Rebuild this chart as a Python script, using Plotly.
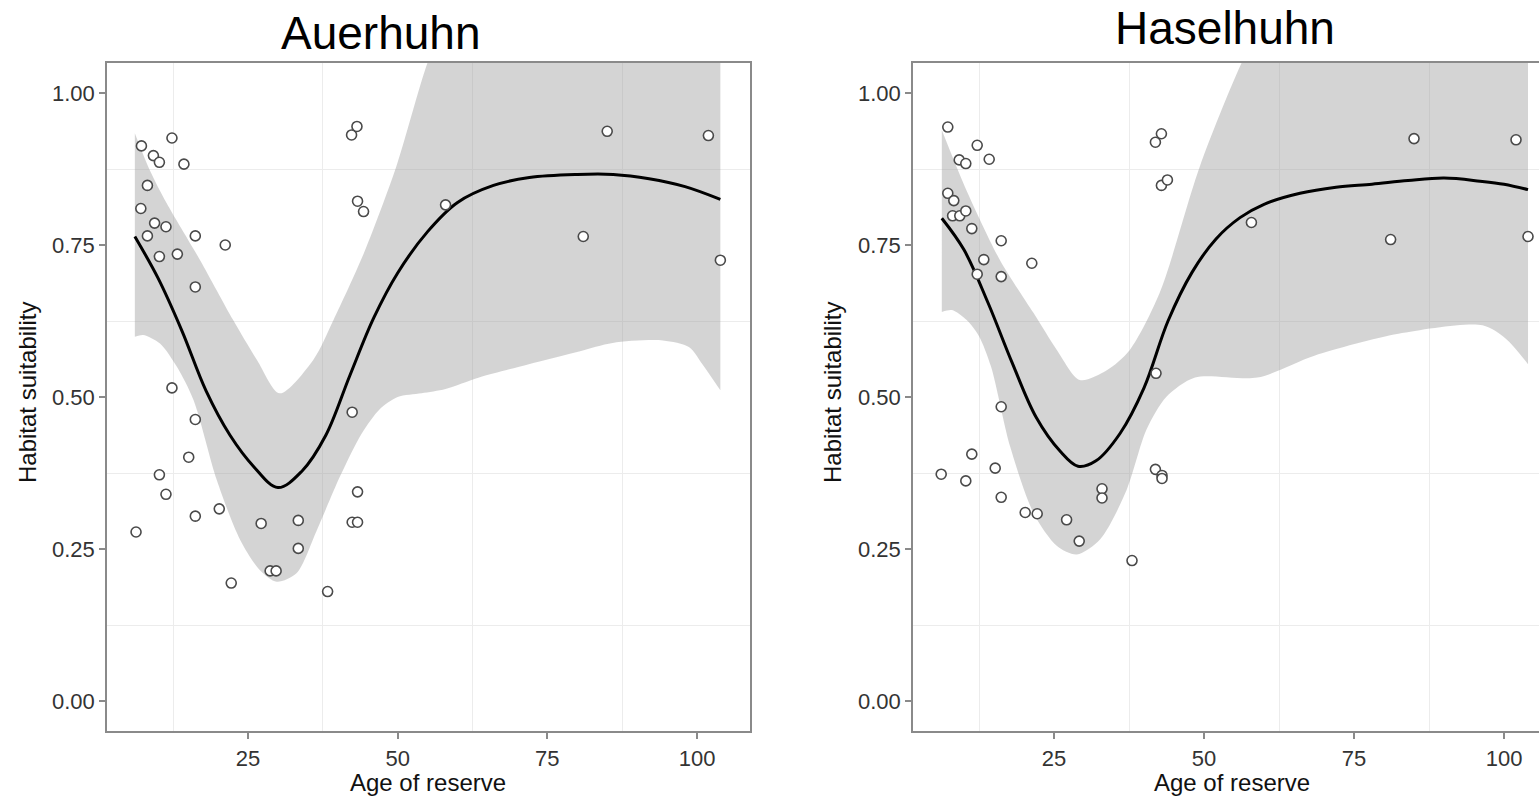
import plotly.graph_objects as go

# ---------------- data ----------------
panel_titles = ["Auerhuhn", "Haselhuhn"]
x_title = "Age of reserve"
y_title = "Habitat suitability"
x_tickvals = [25, 50, 75, 100]
x_ticktext = ["25", "50", "75", "100"]
y_tickvals = [0.0, 0.25, 0.5, 0.75, 1.0]
y_ticktext = ["0.00", "0.25", "0.50", "0.75", "1.00"]
x_minor_grid = [12.5, 37.5, 62.5, 87.5]
y_minor_grid = [0.125, 0.375, 0.625, 0.875]

# Auerhuhn observations
auer_age = [6.3, 7.1, 7.2, 8.2, 8.2, 9.2, 9.4, 10.2, 10.2, 10.2, 11.3, 11.3, 12.3, 12.3,
            13.2, 14.3, 15.1, 16.2, 16.2, 16.2, 16.2, 20.2, 21.2, 22.2, 27.2, 28.7, 29.7,
            33.4, 33.4, 38.3, 42.3, 43.2, 43.3, 44.3, 42.4, 43.3, 42.4, 43.3, 58.0, 81.0,
            85.0, 101.9, 103.9]
auer_suit = [0.278, 0.810, 0.913, 0.848, 0.765, 0.897, 0.786, 0.886, 0.731, 0.372, 0.780,
             0.340, 0.926, 0.515, 0.735, 0.883, 0.401, 0.765, 0.681, 0.463, 0.304, 0.316,
             0.750, 0.194, 0.292, 0.214, 0.214, 0.297, 0.251, 0.180, 0.931, 0.945, 0.822,
             0.805, 0.475, 0.344, 0.294, 0.294, 0.816, 0.764, 0.937, 0.930, 0.725]

# Auerhuhn smoother and confidence band
auer_fit_age = [6.1, 10, 14, 18, 22, 26, 30, 34, 38, 42, 46, 50, 55, 60, 66, 72, 80, 86,
                92, 98, 103.9]
auer_fit = [0.764, 0.695, 0.608, 0.510, 0.437, 0.385, 0.351, 0.378, 0.437, 0.535, 0.630,
            0.704, 0.772, 0.820, 0.848, 0.861, 0.866, 0.866, 0.859, 0.846, 0.825]
auer_upper_age = [6.1, 8.6, 11.4, 17.0, 22.5, 26.5, 30.3, 35.9, 39.3, 44.5, 49.8, 55.0,
                  60.0, 70.0, 85.0, 95.0, 103.9]
auer_upper = [0.934, 0.873, 0.819, 0.725, 0.627, 0.561, 0.506, 0.561, 0.627, 0.740, 0.880,
              1.050, 1.170, 1.320, 1.400, 1.420, 1.450]
auer_lower_age = [6.1, 7.5, 10.3, 13.1, 15.9, 19.8, 23.7, 27.0, 29.8, 33.1, 36.5, 40.4,
                  44.0, 47.0, 50.0, 54.0, 58.0, 63.6, 71.9, 80.3, 85.9, 94.3, 98.7, 100.9,
                  103.9]
auer_lower = [0.599, 0.602, 0.588, 0.550, 0.495, 0.363, 0.265, 0.215, 0.196, 0.210, 0.281,
              0.370, 0.440, 0.480, 0.500, 0.506, 0.513, 0.532, 0.554, 0.575, 0.589, 0.593,
              0.582, 0.554, 0.511]

# Haselhuhn observations
hasel_age = [6.2, 7.3, 7.3, 8.1, 8.3, 9.2, 9.3, 10.3, 10.3, 10.3, 11.3, 11.3, 12.2, 12.2,
             13.3, 14.2, 15.2, 16.2, 16.2, 16.2, 16.2, 20.2, 21.3, 22.2, 27.1, 29.2, 33.0,
             33.0, 38.0, 41.9, 42.9, 42.9, 43.9, 42.0, 41.9, 43.0, 43.0, 57.9, 81.1, 85.0,
             102.0, 104.0]
hasel_suit = [0.373, 0.944, 0.835, 0.798, 0.823, 0.890, 0.798, 0.884, 0.806, 0.362, 0.777,
              0.406, 0.914, 0.702, 0.726, 0.891, 0.383, 0.757, 0.698, 0.484, 0.335, 0.310,
              0.720, 0.308, 0.298, 0.263, 0.349, 0.334, 0.231, 0.919, 0.933, 0.848, 0.857,
              0.539, 0.381, 0.371, 0.366, 0.787, 0.759, 0.925, 0.923, 0.764]

# Haselhuhn smoother and confidence band
hasel_fit_age = [6.3, 10, 14, 18, 22, 26, 29, 32, 36, 40, 44, 48, 52, 56, 60, 66, 72, 78,
                 84, 90, 96, 100, 104]
hasel_fit = [0.794, 0.742, 0.655, 0.557, 0.467, 0.411, 0.386, 0.395, 0.440, 0.515, 0.625,
             0.705, 0.760, 0.795, 0.817, 0.835, 0.845, 0.850, 0.856, 0.860, 0.855, 0.850,
             0.841]
hasel_upper_age = [6.3, 10.4, 16.0, 21.6, 25.5, 29.3, 33.8, 37.6, 42.6, 49.3, 56.1, 65.0,
                   80.0, 95.0, 104.0]
hasel_upper = [0.939, 0.840, 0.725, 0.638, 0.577, 0.528, 0.544, 0.577, 0.671, 0.879, 1.046,
               1.220, 1.350, 1.400, 1.420]
hasel_lower_age = [6.3, 8.0, 10.4, 12.5, 14.5, 17.7, 21.6, 25.5, 28.8, 32.7, 37.1, 40.4,
                   43.7, 48.5, 58.9, 68.4, 82.4, 96.4, 100.3, 104.0]
hasel_lower = [0.640, 0.643, 0.627, 0.600, 0.550, 0.418, 0.309, 0.255, 0.241, 0.266, 0.347,
               0.446, 0.500, 0.532, 0.532, 0.568, 0.604, 0.618, 0.596, 0.554]

# ---------------- figure ----------------
W, H = 1539, 800
FONT = "Liberation Sans, Arial, Helvetica, sans-serif"
RIBBON = "rgba(153,153,153,0.42)"

fig = go.Figure()

panels = [
    dict(xa="x", ya="y", age=auer_age, suit=auer_suit, fa=auer_fit_age, f=auer_fit,
         ua=auer_upper_age, u=auer_upper, la=auer_lower_age, l=auer_lower),
    dict(xa="x2", ya="y2", age=hasel_age, suit=hasel_suit, fa=hasel_fit_age, f=hasel_fit,
         ua=hasel_upper_age, u=hasel_upper, la=hasel_lower_age, l=hasel_lower),
]

for p in panels:
    fig.add_trace(go.Scatter(x=p["la"], y=p["l"], xaxis=p["xa"], yaxis=p["ya"],
                             mode="lines", line=dict(width=0, shape="spline", smoothing=0.8),
                             hoverinfo="skip", showlegend=False))
    fig.add_trace(go.Scatter(x=p["ua"], y=p["u"], xaxis=p["xa"], yaxis=p["ya"],
                             mode="lines", line=dict(width=0, shape="spline", smoothing=0.8),
                             fill="tonexty", fillcolor=RIBBON,
                             hoverinfo="skip", showlegend=False))
    fig.add_trace(go.Scatter(x=p["fa"], y=p["f"], xaxis=p["xa"], yaxis=p["ya"],
                             mode="lines", line=dict(color="black", width=3, shape="spline",
                                                     smoothing=1.0),
                             showlegend=False))
    fig.add_trace(go.Scatter(x=p["age"], y=p["suit"], xaxis=p["xa"], yaxis=p["ya"],
                             mode="markers",
                             marker=dict(size=10, color="white",
                                         line=dict(color="#4a4a4a", width=1.6)),
                             showlegend=False))

ydom = [(800 - 731.4) / H, (800 - 62.6) / H]

axis_common = dict(showgrid=False, zeroline=False, showline=True, linecolor="#8a8a8a",
                   linewidth=1.5, ticks="outside", ticklen=6, tickwidth=1.5,
                   tickcolor="#8a8a8a", tickfont=dict(family=FONT, size=22, color="#333333"))

xminor = dict(tickmode="array", tickvals=x_minor_grid, showgrid=True,
              gridcolor="#ececec", gridwidth=1, ticks="")
yminor = dict(tickmode="array", tickvals=y_minor_grid, showgrid=True,
              gridcolor="#ececec", gridwidth=1, ticks="")

fig.update_layout(
    width=W, height=H,
    margin=dict(l=0, r=0, t=0, b=0),
    paper_bgcolor="white", plot_bgcolor="white",
    showlegend=False,
    xaxis=dict(domain=[107 / W, 750 / W], range=[1.45, 108.85], anchor="y",
               tickmode="array", tickvals=x_tickvals, ticktext=x_ticktext,
               mirror=True, minor=xminor, **axis_common),
    yaxis=dict(domain=ydom, range=[-0.05, 1.05], anchor="x",
               tickmode="array", tickvals=y_tickvals, ticktext=y_ticktext,
               mirror=True, minor=yminor, **axis_common),
    xaxis2=dict(domain=[913 / W, 1.0], range=[1.5, 105.83], anchor="y2",
                tickmode="array", tickvals=x_tickvals, ticktext=x_ticktext,
                mirror=True, minor=xminor, **axis_common),
    yaxis2=dict(domain=ydom, range=[-0.05, 1.05], anchor="x2",
                tickmode="array", tickvals=y_tickvals, ticktext=y_ticktext,
                mirror=False, minor=yminor, **axis_common),
)

annotations = [
    dict(text=panel_titles[0], x=381 / W, y=1 - 5 / H, yanchor="top",
         font=dict(size=46, color="black")),
    dict(text=panel_titles[1], x=1225 / W, y=1.0, yanchor="top",
         font=dict(size=46, color="black")),
    dict(text=x_title, x=428 / W, y=1 - 782 / H, yanchor="middle",
         font=dict(size=24, color="#111111")),
    dict(text=x_title, x=1232 / W, y=1 - 782 / H, yanchor="middle",
         font=dict(size=24, color="#111111")),
    dict(text=y_title, x=27 / W, y=1 - 393 / H, yanchor="middle", textangle=-90,
         font=dict(size=24, color="#111111")),
    dict(text=y_title, x=832 / W, y=1 - 393 / H, yanchor="middle", textangle=-90,
         font=dict(size=24, color="#111111")),
]
for a in annotations:
    a.update(xref="paper", yref="paper", xanchor="center", showarrow=False)
    a["font"]["family"] = FONT
fig.update_layout(annotations=annotations)

fig.write_html("out.html", config={"displayModeBar": False},
               post_script="document.body.style.margin='0px';"
                           "document.body.style.overflow='hidden';")
